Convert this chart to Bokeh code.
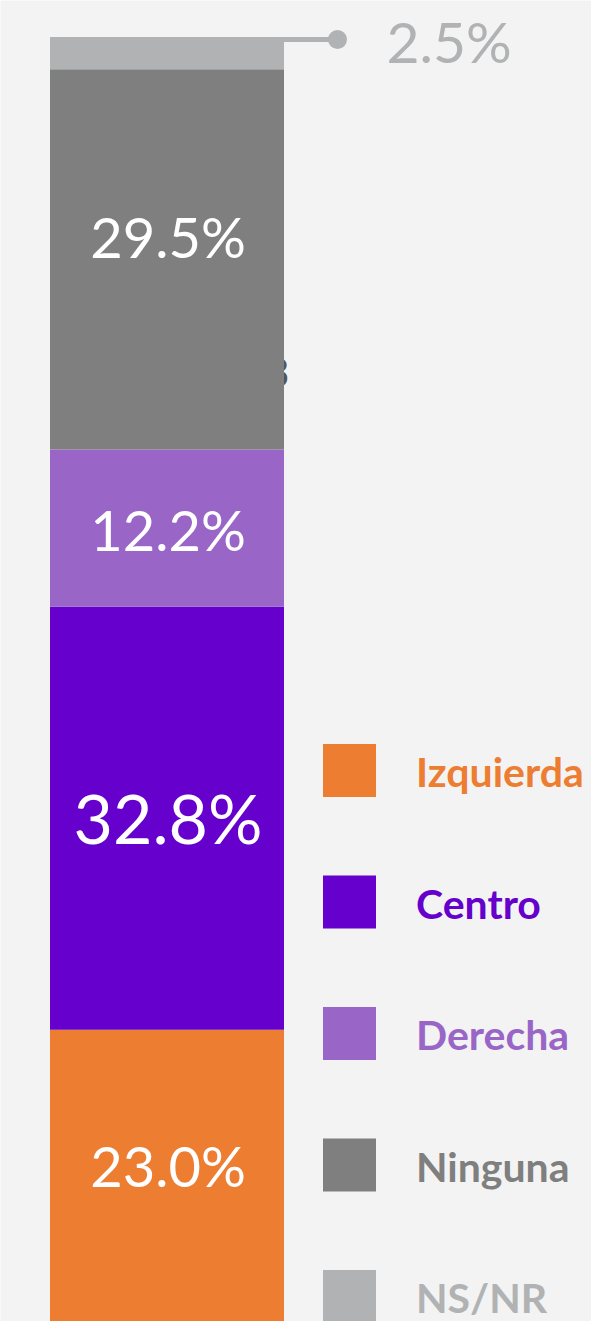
from bokeh.plotting import figure
from bokeh.models import Range1d, ColumnDataSource
from bokeh.core.properties import value
from bokeh.embed import file_html
from bokeh.resources import INLINE

# ---- data ----
categories = ["Izquierda", "Centro", "Derecha", "Ninguna", "NS/NR"]
shares = [23.0, 32.8, 12.2, 29.5, 2.5]
colors = ["#ED7D31", "#6600CC", "#9966C8", "#7F7F7F", "#B1B2B4"]
labels = ["23.0%", "32.8%", "12.2%", "29.5%", "2.5%"]

W, H = 591, 1321
BG = "#F3F3F3"

bottoms, tops = [], []
acc = 0.0
for s in shares:
    bottoms.append(acc)
    acc += s
    tops.append(acc)
mids = [(b + t) / 2 for b, t in zip(bottoms, tops)]

p = figure(width=W, height=H, output_backend="svg", toolbar_location=None,
           x_range=Range1d(0, W), y_range=Range1d(0.36, 102.84),
           min_border=0, background_fill_color=BG, border_fill_color=BG,
           outline_line_color=None)
p.extra_y_ranges = {"px": Range1d(start=H, end=0)}
p.axis.visible = False
p.grid.visible = False

BAR_X, BAR_W = 166.5, 234

# partially hidden stray glyph behind the bar (as in the reference)
p.text(x=[289], y=[372], text=["3"], text_color="#555555",
       text_font=value("Lato"), text_font_size="40px", text_align="right",
       text_baseline="middle", y_range_name="px")

src = ColumnDataSource(dict(cat=categories, bottom=bottoms, top=tops,
                            color=colors, mid=mids, label=labels,
                            x=[BAR_X] * len(categories)))
p.vbar(x="x", width=BAR_W, bottom="bottom", top="top", fill_color="color",
       line_color=None, source=src)

# in-bar labels (all but the last small segment)
label_dy = [12, 1, -1, 23]  # screen px nudges (layout)
n_in = len(categories) - 1
big = max(shares)
for i in range(n_in):
    size = "68px" if shares[i] == big else "56px"
    p.text(x=[BAR_X + 1], y=[mids[i]], text=[labels[i]], text_color="white",
           text_font=value("Lato"), text_font_size=size,
           text_align="center", text_baseline="middle", y_offset=-label_dy[i])

# leader for the NS/NR segment
lx0 = BAR_X + BAR_W / 2 - 1
lx1 = 337
ly = 39
p.line(x=[lx0, lx1], y=[ly, ly], line_color=colors[-1], line_width=5,
       y_range_name="px")
p.scatter(x=[lx1], y=[ly], size=19, marker="circle", fill_color=colors[-1],
          line_color=None, y_range_name="px")
p.text(x=[386], y=[40], text=[labels[-1]], text_color=colors[-1],
       text_font=value("Lato"), text_font_size="57px", text_align="left",
       text_baseline="middle", y_range_name="px")

# legend
leg_y = [770 + 131.5 * i for i in range(len(categories))]
p.rect(x=[349] * len(categories), y=leg_y, width=53, height=53,
       width_units="screen", height_units="screen", fill_color=colors,
       line_color=None, y_range_name="px")
for i, c in enumerate(categories):
    p.text(x=[415.5], y=[leg_y[i] + 1], text=[c], text_color=colors[i],
           text_font=value("Lato"), text_font_style="bold",
           text_font_size="41px", text_align="left", text_baseline="middle",
           y_range_name="px")

open("out.html", "w").write(file_html(p, INLINE))
